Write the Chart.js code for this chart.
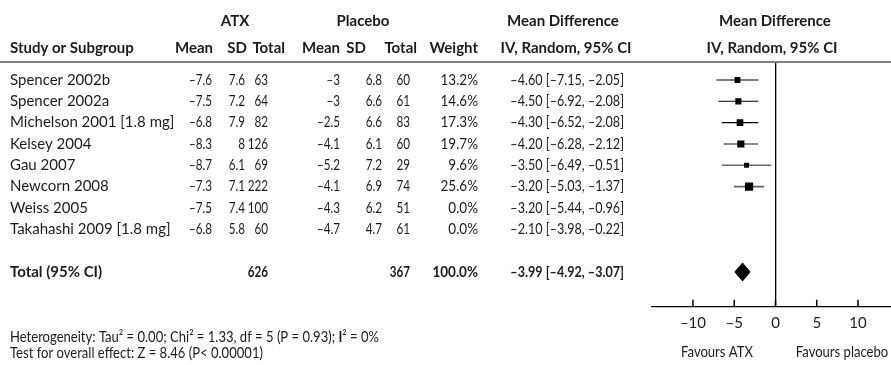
<!DOCTYPE html>
<html>
<head>
<meta charset="utf-8">
<script src="https://cdn.jsdelivr.net/npm/chart.js@4.4.1/dist/chart.umd.min.js"></script>
<style>
  html, body { margin: 0; padding: 0; background: #fff; }
  #wrap { width: 891px; height: 365px; }
</style>
</head>
<body>
<div id="wrap"><canvas id="forest" width="891" height="365"></canvas></div>
<script>
//------------------------------------------------------------------------------
// data
//------------------------------------------------------------------------------
var studies = ["Spencer 2002b", "Spencer 2002a", "Michelson 2001 [1.8 mg]", "Kelsey 2004",
               "Gau 2007", "Newcorn 2008", "Weiss 2005", "Takahashi 2009 [1.8 mg]"];
var atxMean = [-7.6, -7.5, -6.8, -8.3, -8.7, -7.3, -7.5, -6.8];
var atxSD   = [7.6, 7.2, 7.9, 8, 6.1, 7.1, 7.4, 5.8];
var atxN    = [63, 64, 82, 126, 69, 222, 100, 60];
var plcMean = [-3, -3, -2.5, -4.1, -5.2, -4.1, -4.3, -4.7];
var plcSD   = [6.8, 6.6, 6.6, 6.1, 7.2, 6.9, 6.2, 4.7];
var plcN    = [60, 61, 83, 60, 29, 74, 51, 61];
var weight  = [13.2, 14.6, 17.3, 19.7, 9.6, 25.6, 0.0, 0.0];
var md      = [-4.60, -4.50, -4.30, -4.20, -3.50, -3.20, -3.20, -2.10];
var ciLow   = [-7.15, -6.92, -6.52, -6.28, -6.49, -5.03, -5.44, -3.98];
var ciHigh  = [-2.05, -2.08, -2.08, -2.12, -0.51, -1.37, -0.96, -0.22];

var totalAtx = 626, totalPlc = 367, totalWeight = 100.0;
var totalMd = -3.99, totalLow = -4.92, totalHigh = -3.07;
var xTicks = [-10, -5, 0, 5, 10];

//------------------------------------------------------------------------------
// helpers / styles
//------------------------------------------------------------------------------
var ink = "#1e1b1c";
var fam = "'Lato', sans-serif";
var fs = 15;
var nsx = 0.78;        // narrow figures, like the source typeface
var totalRow = 9;
var diamondHalf = 0.42;
var yMin = -0.797, yMax = 10.63;
var tickLen = 0.33;    // in row units, about 7px

function num(v) { return (v < 0 ? "\u2013" : "") + String(Math.abs(v)); }
function num2(v) { return (v < 0 ? "\u2013" : "") + Math.abs(v).toFixed(2); }
function ci(m, lo, hi) { return num2(m) + " [" + num2(lo) + ", " + num2(hi) + "]"; }

//------------------------------------------------------------------------------
// datasets
//------------------------------------------------------------------------------
var datasets = [];
var sq = [], sqR = [];
for (var i = 0; i < studies.length; i++) {
  if (weight[i] <= 0) continue;
  sq.push({ x: md[i], y: i });
  sqR.push(1.6 * Math.sqrt(weight[i]) / (2 * Math.SQRT1_2));
  datasets.push({
    data: [{ x: ciLow[i], y: i }, { x: ciHigh[i], y: i }],
    showLine: true, borderColor: i < 3 ? "#000" : "#666", borderWidth: i < 3 ? 1.1 : 1.6,
    pointRadius: 0, order: 2
  });
}
datasets.push({
  data: sq, pointStyle: "rect", pointRadius: sqR, backgroundColor: "#000",
  borderWidth: 0, order: 0
});
datasets.push({
  data: [{ x: totalLow, y: totalRow }, { x: totalMd, y: totalRow - diamondHalf },
         { x: totalHigh, y: totalRow }, { x: totalMd, y: totalRow + diamondHalf },
         { x: totalLow, y: totalRow }],
  showLine: true, fill: "shape", tension: 0, backgroundColor: "#000",
  borderColor: "#000", borderWidth: 1, pointRadius: 0, order: 1
});
// tick marks standing up from the axis
xTicks.forEach(function(v) {
  datasets.push({
    data: [{ x: v, y: yMax }, { x: v, y: yMax - tickLen }],
    showLine: true, borderColor: "#000", borderWidth: 1.5, pointRadius: 0, order: 3
  });
});

//------------------------------------------------------------------------------
// table text, header rule
//------------------------------------------------------------------------------
var tablePlugin = {
  id: "table",
  afterDraw: function(chart) {
    var c = chart.ctx, ys = chart.scales.y, area = chart.chartArea;
    function t(s, x, y, align, bold, sx, size) {
      sx = sx || 1;
      c.font = (bold ? "bold " : "") + (size || fs) + "px " + fam;
      c.textAlign = align;
      c.save(); c.translate(x, y); c.scale(sx, 1); c.fillText(s, 0, 0); c.restore();
      return c.measureText(s).width * sx;
    }
    c.save();

    c.fillStyle = "#808080";
    c.fillRect(0, area.top - 2, chart.width, 2);

    c.fillStyle = ink;
    c.textBaseline = "middle";

    t("ATX", 235, 21, "center", true);
    t("Placebo", 363, 21, "center", true);
    t("Mean Difference", 563, 21, "center", true);
    t("Mean Difference", 775, 21, "center", true);

    t("Study or Subgroup", 10, 48, "left", true);
    t("Mean", 213, 48, "right", true);
    t("SD", 247, 48, "right", true);
    t("Total", 285, 48, "right", true);
    t("Mean", 340, 48, "right", true);
    t("SD", 366, 48, "right", true);
    t("Total", 417, 48, "right", true);
    t("Weight", 478, 48, "right", true);
    t("IV, Random, 95% CI", 566, 48, "center", true);
    t("IV, Random, 95% CI", 772, 48, "center", true);

    for (var i = 0; i < studies.length; i++) {
      var y = ys.getPixelForValue(i);
      t(studies[i], 10, y, "left");
      t(num(atxMean[i]), 212, y, "right", false, nsx);
      t(num(atxSD[i]), 245, y, "right", false, nsx);
      t(String(atxN[i]), 268, y, "right", false, nsx);
      t(num(plcMean[i]), 340, y, "right", false, nsx);
      t(num(plcSD[i]), 382, y, "right", false, nsx);
      t(String(plcN[i]), 410, y, "right", false, nsx);
      t(weight[i].toFixed(1) + "%", 478, y, "right", false, 0.9);
      t(ci(md[i], ciLow[i], ciHigh[i]), 624, y, "right", false, 0.84);
    }

    var ty = ys.getPixelForValue(totalRow);
    t("Total (95% CI)", 10, ty, "left", true);
    t(String(totalAtx), 268, ty, "right", true, nsx);
    t(String(totalPlc), 410, ty, "right", true, nsx);
    t(totalWeight.toFixed(1) + "%", 478, ty, "right", true, 0.9);
    t(ci(totalMd, totalLow, totalHigh), 624, ty, "right", true, 0.84);

    var x0 = 10, fsx = 0.87;
    x0 += t("Heterogeneity: Tau\u00b2 = 0.00; Chi\u00b2 = 1.33, df = 5 (P = 0.93); ", x0, 337, "left", false, fsx);
    x0 += t("I", x0, 337, "left", true, fsx);
    t("\u00b2 = 0%", x0, 337, "left", false, fsx);
    t("Test for overall effect: Z = 8.46 (P< 0.00001)", 10, 353, "left", false, fsx);

    t("Favours ATX", 717, 352, "center", false, 0.87);
    t("Favours placebo", 842, 352, "center", false, 0.87);
    c.restore();
  }
};

//------------------------------------------------------------------------------
// chart
//------------------------------------------------------------------------------
var ctx = document.getElementById("forest");
var chart = new Chart(ctx, {
  type: "scatter",
  data: { datasets: datasets },
  options: {
    responsive: false,
    animation: false,
    layout: { autoPadding: false, padding: { left: 651.7, right: 0, top: 63, bottom: 0 } },
    plugins: { legend: { display: false }, tooltip: { enabled: false } },
    scales: {
      x: {
        type: "linear", min: -15, max: 14, position: "bottom",
        afterBuildTicks: function(s) { s.ticks = xTicks.map(function(v) { return { value: v }; }); },
        afterFit: function(s) { s.height = 58.3; s.paddingLeft = 0; s.paddingRight = 0; },
        grid: {
          drawTicks: false, lineWidth: 1.3,
          color: function(c) { return c.tick && c.tick.value === 0 ? "#000" : "rgba(0,0,0,0)"; }
        },
        border: { display: true, color: "#000", width: 1.3 },
        ticks: {
          autoSkip: false, maxRotation: 0, padding: 7, color: ink,
          font: { family: fam, size: fs },
          callback: function(v) { return num(v); }
        }
      },
      y: { type: "linear", display: false, reverse: true, min: yMin, max: yMax }
    }
  },
  plugins: [tablePlugin]
});
</script>
</body>
</html>
